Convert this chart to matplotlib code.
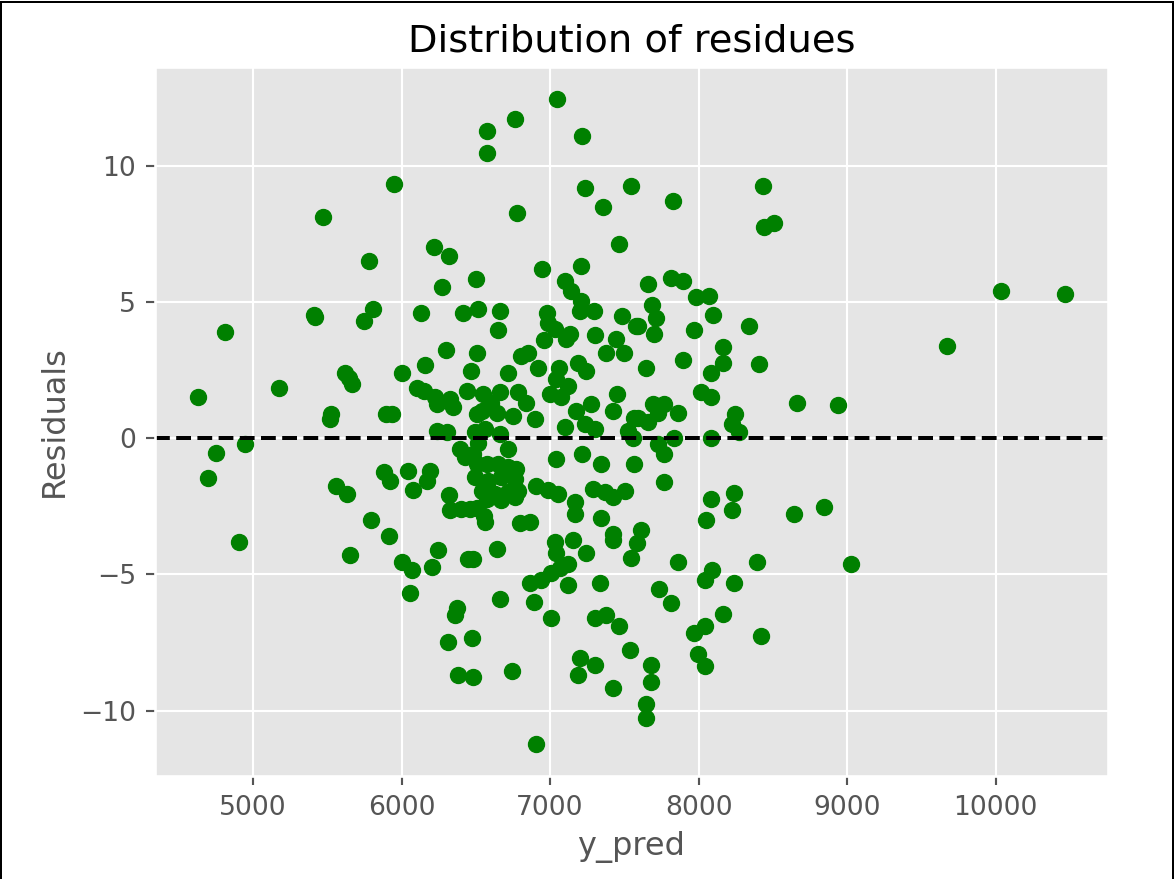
import matplotlib
matplotlib.use("Agg")
import matplotlib.pyplot as plt
from matplotlib.patches import Rectangle

# predicted values (x) and residuals (y)
y_pred = [
    4631, 4812, 4698, 4750, 4944, 4906, 5174, 5472, 5409, 5420,
    5515, 5524, 5556, 5629, 5617, 5644, 5667, 5651, 5745, 5807,
    5780, 5795, 5878, 5923, 5916, 5950, 5896, 5936, 6002, 6002,
    6040, 6058, 6069, 6080, 6102, 6129, 6148, 6159, 6170, 6192,
    6203, 6221, 6226, 6237, 6237, 6248, 6271, 6300, 6304, 6322,
    6326, 6349, 6322, 6326, 6315, 6371, 6360, 6383, 6394, 6427,
    6411, 6400, 6460, 6510, 6438, 6466, 6450, 6483, 6472, 6483,
    6501, 6506, 6517, 6506, 6539, 6550, 6494, 6561, 6517, 6484,
    6572, 6572, 6661, 6605, 6661, 6650, 6713, 6639, 6750, 6896,
    6783, 6840, 6762, 6778, 6807, 6852, 6918, 6946, 6981, 6987,
    7031, 6960, 6998, 7076, 7049, 7058, 7042, 7121, 7098, 7143,
    7210, 7199, 7296, 7132, 7109, 7187, 7243, 7177, 7278, 7098,
    7232, 7300, 7217, 7232, 7206, 7358, 7300, 7378, 7500, 7445,
    7485, 7579, 7462, 7542, 7451, 7423, 7568, 7523, 7657, 7647,
    7556, 6908, 6987, 7053, 7038, 7217, 7344, 7567, 7165, 7165,
    7289, 7367, 7423, 7505, 7344, 7423, 7423, 7611, 7585, 7035,
    7154, 7243, 7042, 7121, 7064, 7009, 6862, 6941, 7121, 7333,
    6661, 6891, 7009, 7300, 7378, 7461, 7541, 6740, 7199, 7300,
    7188, 7423, 7647, 7647, 6908, 6800, 6862, 6639, 6561, 6555,
    6717, 6661,
    6506, 6572, 6650, 6717, 6773, 6495, 6583, 6672, 6762, 6539,
    6628, 6717, 6783, 6572, 6672, 6762,
    7825, 8433, 8440, 8507, 7814, 7893, 7981, 8071, 7683, 7712,
    7590, 7698, 8100, 7966, 8339, 8161, 8161, 8083, 8407, 7893,
    8016, 8083, 7691, 7770, 7724, 7859, 7590, 7657, 8248,
    8226, 8271, 7836, 8083,
    7724, 7770, 7770, 8083, 8238, 8226, 8049, 8642, 7545, 7864,
    8093, 8042, 8238, 8390, 7736, 7814, 8161, 8042, 7966, 8418,
    7993, 8042, 7680, 7680,
    10035, 10465, 9675, 8660, 8938, 8847, 9029,
]

residuals = [
    1.50, 3.89, -1.46, -0.55, -0.21, -3.81, 1.84, 8.13, 4.54, 4.44,
    0.72, 0.89, -1.74, -2.04, 2.41, 2.20, 2.00, -4.29, 4.30, 4.74,
    6.50, -3.01, -1.25, -1.56, -3.60, 9.32, 0.88, 0.88, 2.41, -4.54,
    -1.19, -5.70, -4.84, -1.89, 1.86, 4.59, 1.74, 2.69, -1.56, -1.19,
    -4.72, 7.01, 1.50, 1.25, 0.28, -4.09, 5.57, 3.25, 0.22, 6.70,
    1.44, 1.13, -2.10, -2.65, -7.47, -6.25, -6.50, -8.69, -0.40, -0.70,
    4.59, -2.60, -2.60, -2.55, 1.72, 2.47, -4.42, -4.42, -7.35, -8.76,
    5.86, 3.14, 4.74, 0.88, 1.01, 1.62, 0.22, 0.34, -0.18, -0.57,
    11.30, 10.46, 1.68, 1.31, 4.67, 3.96, 2.41, 0.94, 0.82, 0.71,
    1.68, 1.31, 11.74, 8.26, 3.03, 3.14, 2.57, 6.22, 4.60, 4.24,
    4.00, 3.61, 1.62, 1.50, 12.45, 2.59, 2.17, 1.92, 5.76, 5.40,
    5.04, 4.67, 4.67, 3.82, 3.63, 2.78, 2.47, 1.01, 1.25, 0.40,
    0.52, 0.34, 11.10, 9.18, 6.31, 8.49, 3.79, 3.14, 3.14, 3.63,
    4.48, 4.12, 7.14, 9.28, 1.62, 1.01, 0.76, 0.28, 5.66, 2.57,
    0.02, -1.74, -1.91, -2.03, -0.75, -0.57, -0.94, -0.94, -2.34, -2.77,
    -1.85, -1.97, -2.16, -1.94, -2.94, -3.50, -3.74, -3.38, -3.84, -3.81,
    -3.74, -4.23, -4.23, -4.60, -4.78, -4.96, -5.32, -5.20, -5.38, -5.32,
    -5.91, -6.03, -6.60, -6.60, -6.48, -6.88, -7.78, -8.55, -8.06, -8.31,
    -8.68, -9.16, -9.77, -10.28, -11.22, -3.13, -3.07, -4.05, -3.07, -2.85,
    -0.40, 0.15,
    -0.94, -0.94, -0.94, -1.06, -1.13, -1.43, -1.56, -1.43, -1.49, -1.92,
    -2.04, -1.98, -1.92, -2.22, -2.28, -2.16,
    8.73, 9.26, 7.77, 7.91, 5.87, 5.79, 5.17, 5.21, 4.90, 4.41,
    4.12, 3.83, 4.54, 3.96, 4.12, 3.35, 2.77, 2.41, 2.71, 2.86,
    1.68, 1.50, 1.25, 1.25, 0.94, 0.94, 0.76, 0.58, 0.88,
    0.52, 0.22, 0.00, 0.00,
    -0.21, -0.57, -1.62, -2.22, -2.01, -2.65, -3.01, -2.80, -4.41, -4.56,
    -4.84, -5.20, -5.32, -4.56, -5.54, -6.06, -6.45, -6.88, -7.15, -7.25,
    -7.94, -8.37, -8.31, -8.94,
    5.42, 5.30, 3.38, 1.28, 1.22, -2.53, -4.63,
]

title = "Distribution of residues"
x_label = "y_pred"
y_label = "Residuals"

plt.style.use("ggplot")

W, H, DPI = 1176, 879, 192
fig = plt.figure(figsize=(W / DPI, H / DPI), dpi=DPI)
ax = fig.add_axes([155 / W, 1 - 776 / H, (1108 - 155) / W, (776 - 67) / H])

ax.scatter(y_pred, residuals, color="green")
ax.axhline(y=0, color="black", linestyle="--")
ax.set_title(title)
ax.set_xlabel(x_label)
ax.set_ylabel(y_label)

# screenshot frame around the figure
fig.add_artist(Rectangle((1 / W, -0.05), (1172 / W), 1.05 - 2 / H,
                         transform=fig.transFigure, fill=False,
                         edgecolor="black", linewidth=0.75))

fig.savefig("out.png", dpi=DPI)
